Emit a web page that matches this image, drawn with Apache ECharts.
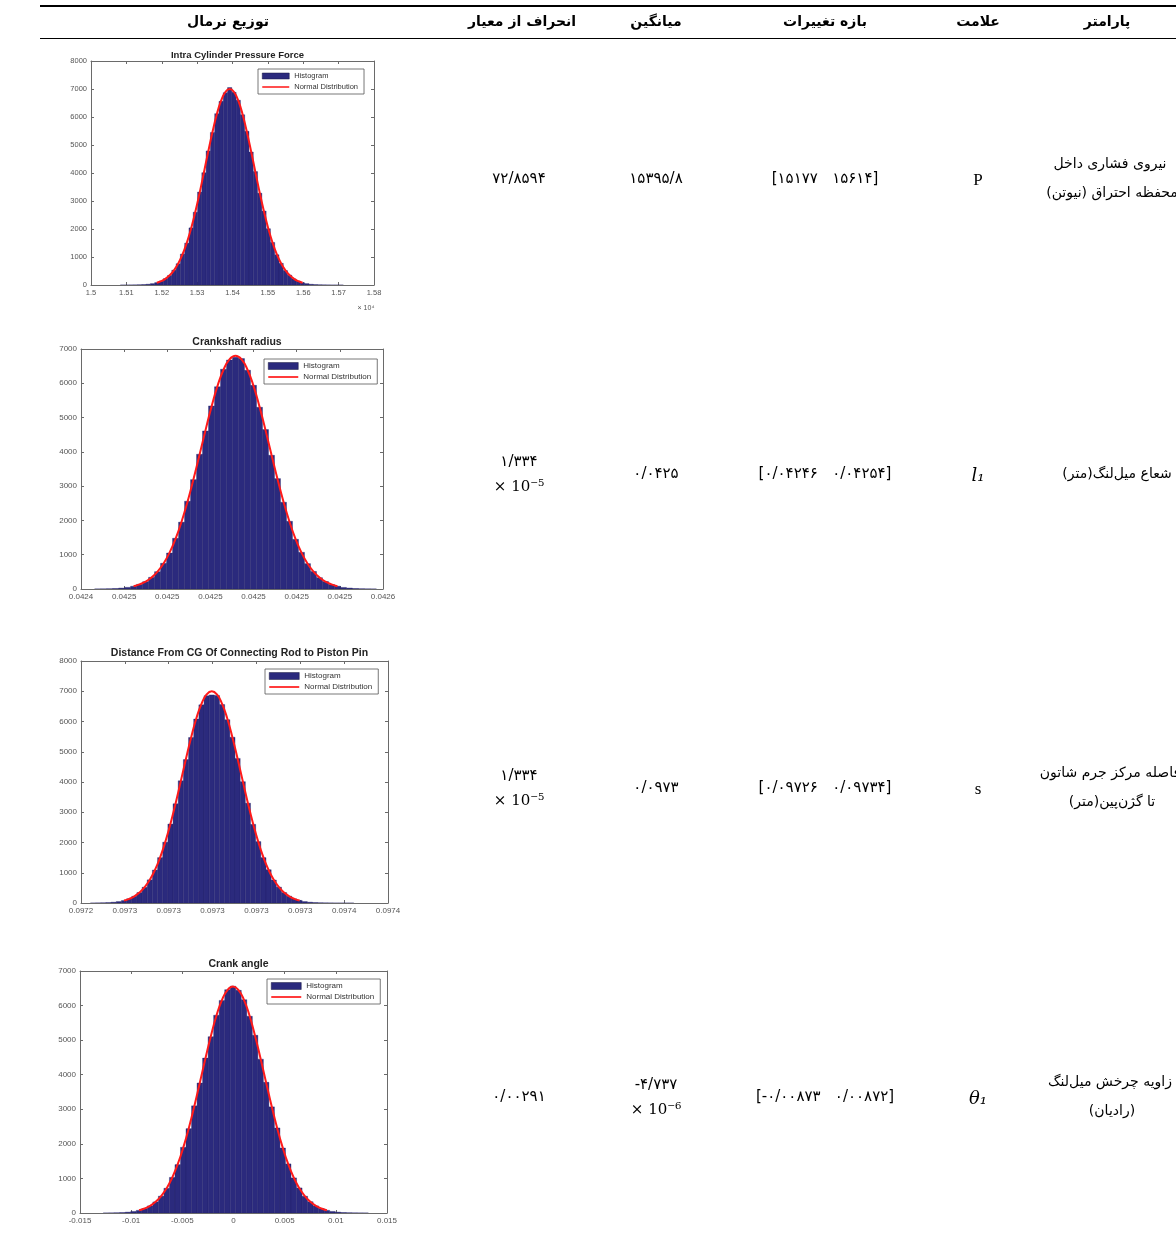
<!DOCTYPE html>
<html>
<head>
<meta charset="utf-8">
<script src="https://cdn.jsdelivr.net/npm/echarts@6/dist/echarts.min.js"></script>
<style>
html, body { margin: 0; padding: 0; background: #fff; }
#main { width: 1176px; height: 1243px; }
</style>
</head>
<body>
<div id="main"></div>
<script>
// ---- histogram 1 : intra cylinder pressure force (x in 1e4 N)
var pressureTickValues = [1.5, 1.51, 1.52, 1.53, 1.54, 1.55, 1.56, 1.57, 1.58];
var pressureTickLabels = ['1.5', '1.51', '1.52', '1.53', '1.54', '1.55', '1.56', '1.57', '1.58'];
var pressureBinStart = 1.5083;
var pressureBinWidth = 0.001212;
var pressureCounts = [1, 1, 2, 4, 9, 16, 28, 50, 86, 135, 226, 340, 530, 760, 1105, 1495, 2040, 2600, 3320, 4010,
    4790, 5450, 6120, 6560, 6870, 7050, 6880, 6600, 6080, 5490, 4750, 4050, 3280, 2640, 2010, 1520, 1080, 775,
    515, 350, 218, 140, 80, 50, 26, 15, 8, 4, 2, 1, 1, 1];
var pressureCurveFrom = 8;
var pressureCurve = [83, 138, 221, 346, 524, 768, 1093, 1509, 2020, 2622, 3300, 4029, 4770, 5475, 6097, 6583, 6894,
    7000, 6894, 6583, 6097, 5475, 4770, 4029, 3300, 2622, 2020, 1509, 1093, 768, 524, 346, 221, 138, 83];

// ---- histogram 2 : crankshaft radius
var radiusTickValues = [0.04243, 0.04245, 0.04247, 0.04249, 0.04251, 0.04253, 0.04255, 0.04257];
var radiusTickLabels = ['0.0424', '0.0425', '0.0425', '0.0425', '0.0425', '0.0425', '0.0425', '0.0426'];
var radiusBinStart = 0.0424363;
var radiusBinWidth = 0.00000278;
var radiusCounts = [2, 4, 8, 15, 27, 48, 80, 136, 212, 340, 505, 750, 1050, 1480, 1950, 2560, 3190, 3930, 4610, 5340,
    5900, 6410, 6680, 6760, 6720, 6380, 5940, 5300, 4650, 3900, 3220, 2530, 1975, 1450, 1070, 740, 512, 330, 218,
    132, 82, 46, 28, 15, 8, 4, 2];
var radiusCurveFrom = 6;
var radiusCurve = [81, 134, 215, 336, 509, 746, 1061, 1465, 1962, 2547, 3206, 3913, 4634, 5319, 5923, 6395, 6697,
    6800, 6697, 6395, 5923, 5319, 4634, 3913, 3206, 2547, 1962, 1465, 1061, 746, 509, 336, 215, 134, 81];

// ---- histogram 3 : distance from CG of connecting rod to piston pin
var distanceTickValues = [0.09724, 0.09726, 0.09728, 0.0973, 0.09732, 0.09734, 0.09736, 0.09738];
var distanceTickLabels = ['0.0972', '0.0973', '0.0973', '0.0973', '0.0973', '0.0973', '0.0974', '0.0974'];
var distanceBinStart = 0.0972443;
var distanceBinWidth = 0.000002355;
var distanceCounts = [1, 3, 7, 14, 26, 48, 82, 140, 222, 345, 520, 765, 1090, 1500, 2010, 2610, 3280, 4040, 4740, 5470,
    6080, 6550, 6850, 6880, 6860, 6560, 6060, 5480, 4780, 4010, 3300, 2600, 2030, 1500, 1100, 760, 525, 345, 225,
    135, 85, 48, 27, 15, 8, 4, 2, 1, 1, 1, 1];
var distanceCurveFrom = 6;
var distanceCurve = [83, 138, 221, 346, 524, 768, 1093, 1509, 2020, 2622, 3300, 4029, 4770, 5475, 6097, 6583, 6894,
    7000, 6894, 6583, 6097, 5475, 4770, 4029, 3300, 2622, 2020, 1509, 1093, 768, 524, 346, 221, 138, 83];

// ---- histogram 4 : crank angle
var angleTickValues = [-0.015, -0.01, -0.005, 0, 0.005, 0.01, 0.015];
var angleTickLabels = ['-0.015', '-0.01', '-0.005', '0', '0.005', '0.01', '0.015'];
var angleBinStart = -0.01274;
var angleBinWidth = 0.00054;
var angleCounts = [1, 3, 7, 13, 25, 45, 76, 128, 205, 320, 488, 715, 1030, 1400, 1900, 2440, 3100, 3760, 4480, 5100,
    5720, 6150, 6460, 6560, 6440, 6170, 5690, 5140, 4450, 3780, 3070, 2460, 1880, 1420, 1015, 725, 485, 326, 205,
    130, 77, 45, 26, 14, 8, 4, 2, 1];
var angleCurveFrom = 6;
var angleCurve = [78, 129, 207, 324, 490, 719, 1022, 1412, 1890, 2453, 3088, 3770, 4463, 5123, 5705, 6160, 6450,
    6550, 6450, 6160, 5705, 5123, 4463, 3770, 3088, 2453, 1890, 1412, 1022, 719, 490, 324, 207, 129, 78];

// ---- table text
var headers = ['توزیع نرمال', 'انحراف از معیار', 'میانگین', 'بازه تغییرات', 'علامت', 'پارامتر'];
var stdValues = [['۷۲/۸۵۹۴'], ['۱/۳۳۴', '× 10⁻⁵'], ['۱/۳۳۴', '× 10⁻⁵'], ['۰/۰۰۲۹۱']];
var meanValues = [['۱۵۳۹۵/۸'], ['۰/۰۴۲۵'], ['۰/۰۹۷۳'], ['-۴/۷۳۷', '× 10⁻⁶']];
var rangeValues = ['[۱۵۱۷۷   ۱۵۶۱۴]', '[۰/۰۴۲۴۶   ۰/۰۴۲۵۴]', '[۰/۰۹۷۲۶   ۰/۰۹۷۳۴]', '[-۰/۰۰۸۷۳   ۰/۰۰۸۷۲]'];
var symbols = ['P', 'l₁', 's', 'θ₁'];
var paramNames = [
    ['نیروی فشاری داخل', 'محفظه احتراق (نیوتن)\u200F'],
    ['شعاع میل\u200Cلنگ(متر)\u200F'],
    ['فاصله مرکز جرم شاتون', 'تا گژن\u200Cپین(متر)\u200F'],
    ['زاویه چرخش میل\u200Cلنگ', '\u200F(رادیان)\u200F']
];
var titles = ['Intra Cylinder Pressure Force', 'Crankshaft radius',
    'Distance From CG Of Connecting Rod to Piston Pin', 'Crank angle'];

var barColor = '#2b2a7d';
var axisColor = '#6a6a6a';
// thin red band in the middle of the legend box
var lineIcon = 'path://M0,0 M0,2.2 L28,2.2 L28,3.8 L0,3.8 Z M28,6';

function histogram(start, width, counts) {
    return counts.map(function (c, i) {
        return [start + i * width, start + (i + 1) * width, c];
    });
}
function fitLine(start, width, from, values) {
    return values.map(function (v, i) {
        return [start + (from + i + 0.5) * width, v];
    });
}

var panels = [
    { left: 91, top: 61, width: 283, height: 224, xMin: 1.5, xMax: 1.58, yMax: 8000, font: 7.5, titleSize: 9.5, titleTop: 45,
      legendLeft: 258, legendTop: 69, legendFont: 7.5, swatch: [27, 6], ticks: pressureTickValues, labels: pressureTickLabels,
      bars: histogram(pressureBinStart, pressureBinWidth, pressureCounts),
      curve: fitLine(pressureBinStart, pressureBinWidth, pressureCurveFrom, pressureCurve) },
    { left: 81, top: 349, width: 302, height: 240, xMin: 0.04243, xMax: 0.04257, yMax: 7000, font: 8, titleSize: 10.5, titleTop: 332,
      legendLeft: 264, legendTop: 359, legendFont: 8, swatch: [30, 7], ticks: radiusTickValues, labels: radiusTickLabels,
      bars: histogram(radiusBinStart, radiusBinWidth, radiusCounts),
      curve: fitLine(radiusBinStart, radiusBinWidth, radiusCurveFrom, radiusCurve) },
    { left: 81, top: 661, width: 307, height: 242, xMin: 0.09724, xMax: 0.09738, yMax: 8000, font: 8, titleSize: 10.5, titleTop: 643,
      legendLeft: 265, legendTop: 669, legendFont: 8, swatch: [30, 7], ticks: distanceTickValues, labels: distanceTickLabels,
      bars: histogram(distanceBinStart, distanceBinWidth, distanceCounts),
      curve: fitLine(distanceBinStart, distanceBinWidth, distanceCurveFrom, distanceCurve) },
    { left: 80, top: 971, width: 307, height: 242, xMin: -0.015, xMax: 0.015, yMax: 7000, font: 8, titleSize: 10.5, titleTop: 954,
      legendLeft: 267, legendTop: 979, legendFont: 8, swatch: [30, 7], ticks: angleTickValues, labels: angleTickLabels,
      bars: histogram(angleBinStart, angleBinWidth, angleCounts),
      curve: fitLine(angleBinStart, angleBinWidth, angleCurveFrom, angleCurve) }
];

function renderBar(params, api) {
    var top = api.coord([api.value(0), api.value(2)]);
    var bottom = api.coord([api.value(1), 0]);
    return {
        type: 'rect',
        shape: { x: top[0], y: top[1], width: bottom[0] - top[0], height: bottom[1] - top[1] },
        style: { fill: barColor, stroke: '#222168', lineWidth: 0.35 }
    };
}

var grid = [], xAxis = [], yAxis = [], series = [], title = [], legend = [];
panels.forEach(function (p, i) {
    grid.push({ left: p.left, top: p.top, width: p.width, height: p.height, containLabel: false });
    var labelFormatter = function (v) {
        for (var k = 0; k < p.ticks.length; k++) {
            if (Math.abs(p.ticks[k] - v) < (p.xMax - p.xMin) * 1e-4) return p.labels[k];
        }
        return '';
    };
    ['bottom', 'top'].forEach(function (pos) {
        xAxis.push({
            type: 'value', gridIndex: i, position: pos, min: p.xMin, max: p.xMax,
            axisLine: { show: true, onZero: false, lineStyle: { color: axisColor, width: 1 } },
            axisTick: { show: true, inside: true, length: 3, customValues: p.ticks, lineStyle: { color: axisColor } },
            axisLabel: {
                show: pos === 'bottom', customValues: p.ticks, formatter: labelFormatter,
                fontSize: p.font, color: '#555', fontFamily: 'Arial', margin: 4, hideOverlap: false
            },
            splitLine: { show: false }
        });
    });
    ['left', 'right'].forEach(function (pos) {
        yAxis.push({
            type: 'value', gridIndex: i, position: pos, min: 0, max: p.yMax, interval: 1000,
            axisLine: { show: true, onZero: false, lineStyle: { color: axisColor, width: 1 } },
            axisTick: { show: true, inside: true, length: 3, lineStyle: { color: axisColor } },
            axisLabel: {
                show: pos === 'left', fontSize: p.font, color: '#555', fontFamily: 'Arial', margin: 4,
                formatter: function (v) { return String(v); }
            },
            splitLine: { show: false }
        });
    });
    series.push({
        type: 'custom', name: 'Histogram', xAxisIndex: 2 * i, yAxisIndex: 2 * i,
        renderItem: renderBar, encode: { x: [0, 1], y: 2 }, data: p.bars,
        itemStyle: { color: barColor }, clip: true, silent: true
    });
    series.push({
        type: 'line', name: 'Normal Distribution', xAxisIndex: 2 * i, yAxisIndex: 2 * i,
        data: p.curve, smooth: true, symbol: 'none', z: 3, silent: true,
        lineStyle: { color: '#ff1a1a', width: 2 }, itemStyle: { color: '#ff1a1a' }
    });
    title.push({
        text: titles[i], left: p.left + p.width / 2, top: p.titleTop, textAlign: 'center',
        textStyle: { fontSize: p.titleSize, fontWeight: 'bold', color: '#222', fontFamily: 'Arial' }
    });
    legend.push({
        left: p.legendLeft, top: p.legendTop, orient: 'vertical', selectedMode: false,
        data: [
            { name: 'Histogram', icon: 'rect', itemStyle: { borderColor: '#1a1a40', borderWidth: 0.5 } },
            { name: 'Normal Distribution', icon: lineIcon }
        ],
        backgroundColor: '#fff', borderColor: '#555', borderWidth: 0.8, borderRadius: 0,
        padding: [3, 6, 3, 4], itemGap: 3, itemWidth: p.swatch[0], itemHeight: p.swatch[1],
        textStyle: { fontSize: p.legendFont, color: '#333', fontFamily: 'Arial' }
    });
});

// table drawn as graphic elements
var graphic = [];
function addText(text, x, y, font, align, color) {
    graphic.push({
        type: 'text', silent: true,
        style: { text: text, x: x, y: y, font: font, align: align || 'center', verticalAlign: 'middle', fill: color || '#000' }
    });
}
graphic.push({ type: 'line', shape: { x1: 40, y1: 6, x2: 1176, y2: 6 }, style: { stroke: '#000', lineWidth: 2 } });
graphic.push({ type: 'line', shape: { x1: 40, y1: 38.5, x2: 1176, y2: 38.5 }, style: { stroke: '#000', lineWidth: 1 } });

var headerX = [228, 522, 656, 825, 978, 1107];
headers.forEach(function (h, i) { addText(h, headerX[i], 22, 'bold 14px "DejaVu Sans"'); });

var rowY = [179, 474, 788, 1097];
var persianFont = '14px "DejaVu Sans"';
var digitFont = '15px "DejaVu Sans"';
var mathFont = '15px "DejaVu Serif"';
rowY.forEach(function (y, r) {
    [stdValues[r], meanValues[r]].forEach(function (cell, c) {
        var x = c === 0 ? 519 : 656;
        if (cell.length === 1) {
            addText('\u200E' + cell[0] + '\u200E', x, y, digitFont);
        } else {
            addText('\u200E' + cell[0] + '\u200E', x, y - 12, digitFont);
            addText(cell[1], x, y + 13, mathFont);
        }
    });
    addText('\u200E' + rangeValues[r] + '\u200E', 825, y, digitFont);
    var symFont = (r === 1 || r === 3) ? 'italic 18px "DejaVu Serif"' : '17px "Liberation Serif"';
    addText(symbols[r], 978, y + 2, symFont);
    var names = paramNames[r];
    if (names.length === 1) {
        addText(names[0], 1117, y, persianFont);
    } else {
        addText(names[0], 1110, y - 15, persianFont);
        addText(names[1], 1112, y + 14, persianFont);
    }
});
addText('× 10⁴', 366, 308, '7px Arial', 'center', '#555');

var chart = echarts.init(document.getElementById('main'));
chart.setOption({
    animation: false,
    backgroundColor: '#fff',
    title: title,
    legend: legend,
    grid: grid,
    xAxis: xAxis,
    yAxis: yAxis,
    series: series,
    graphic: graphic
});
</script>
</body>
</html>
